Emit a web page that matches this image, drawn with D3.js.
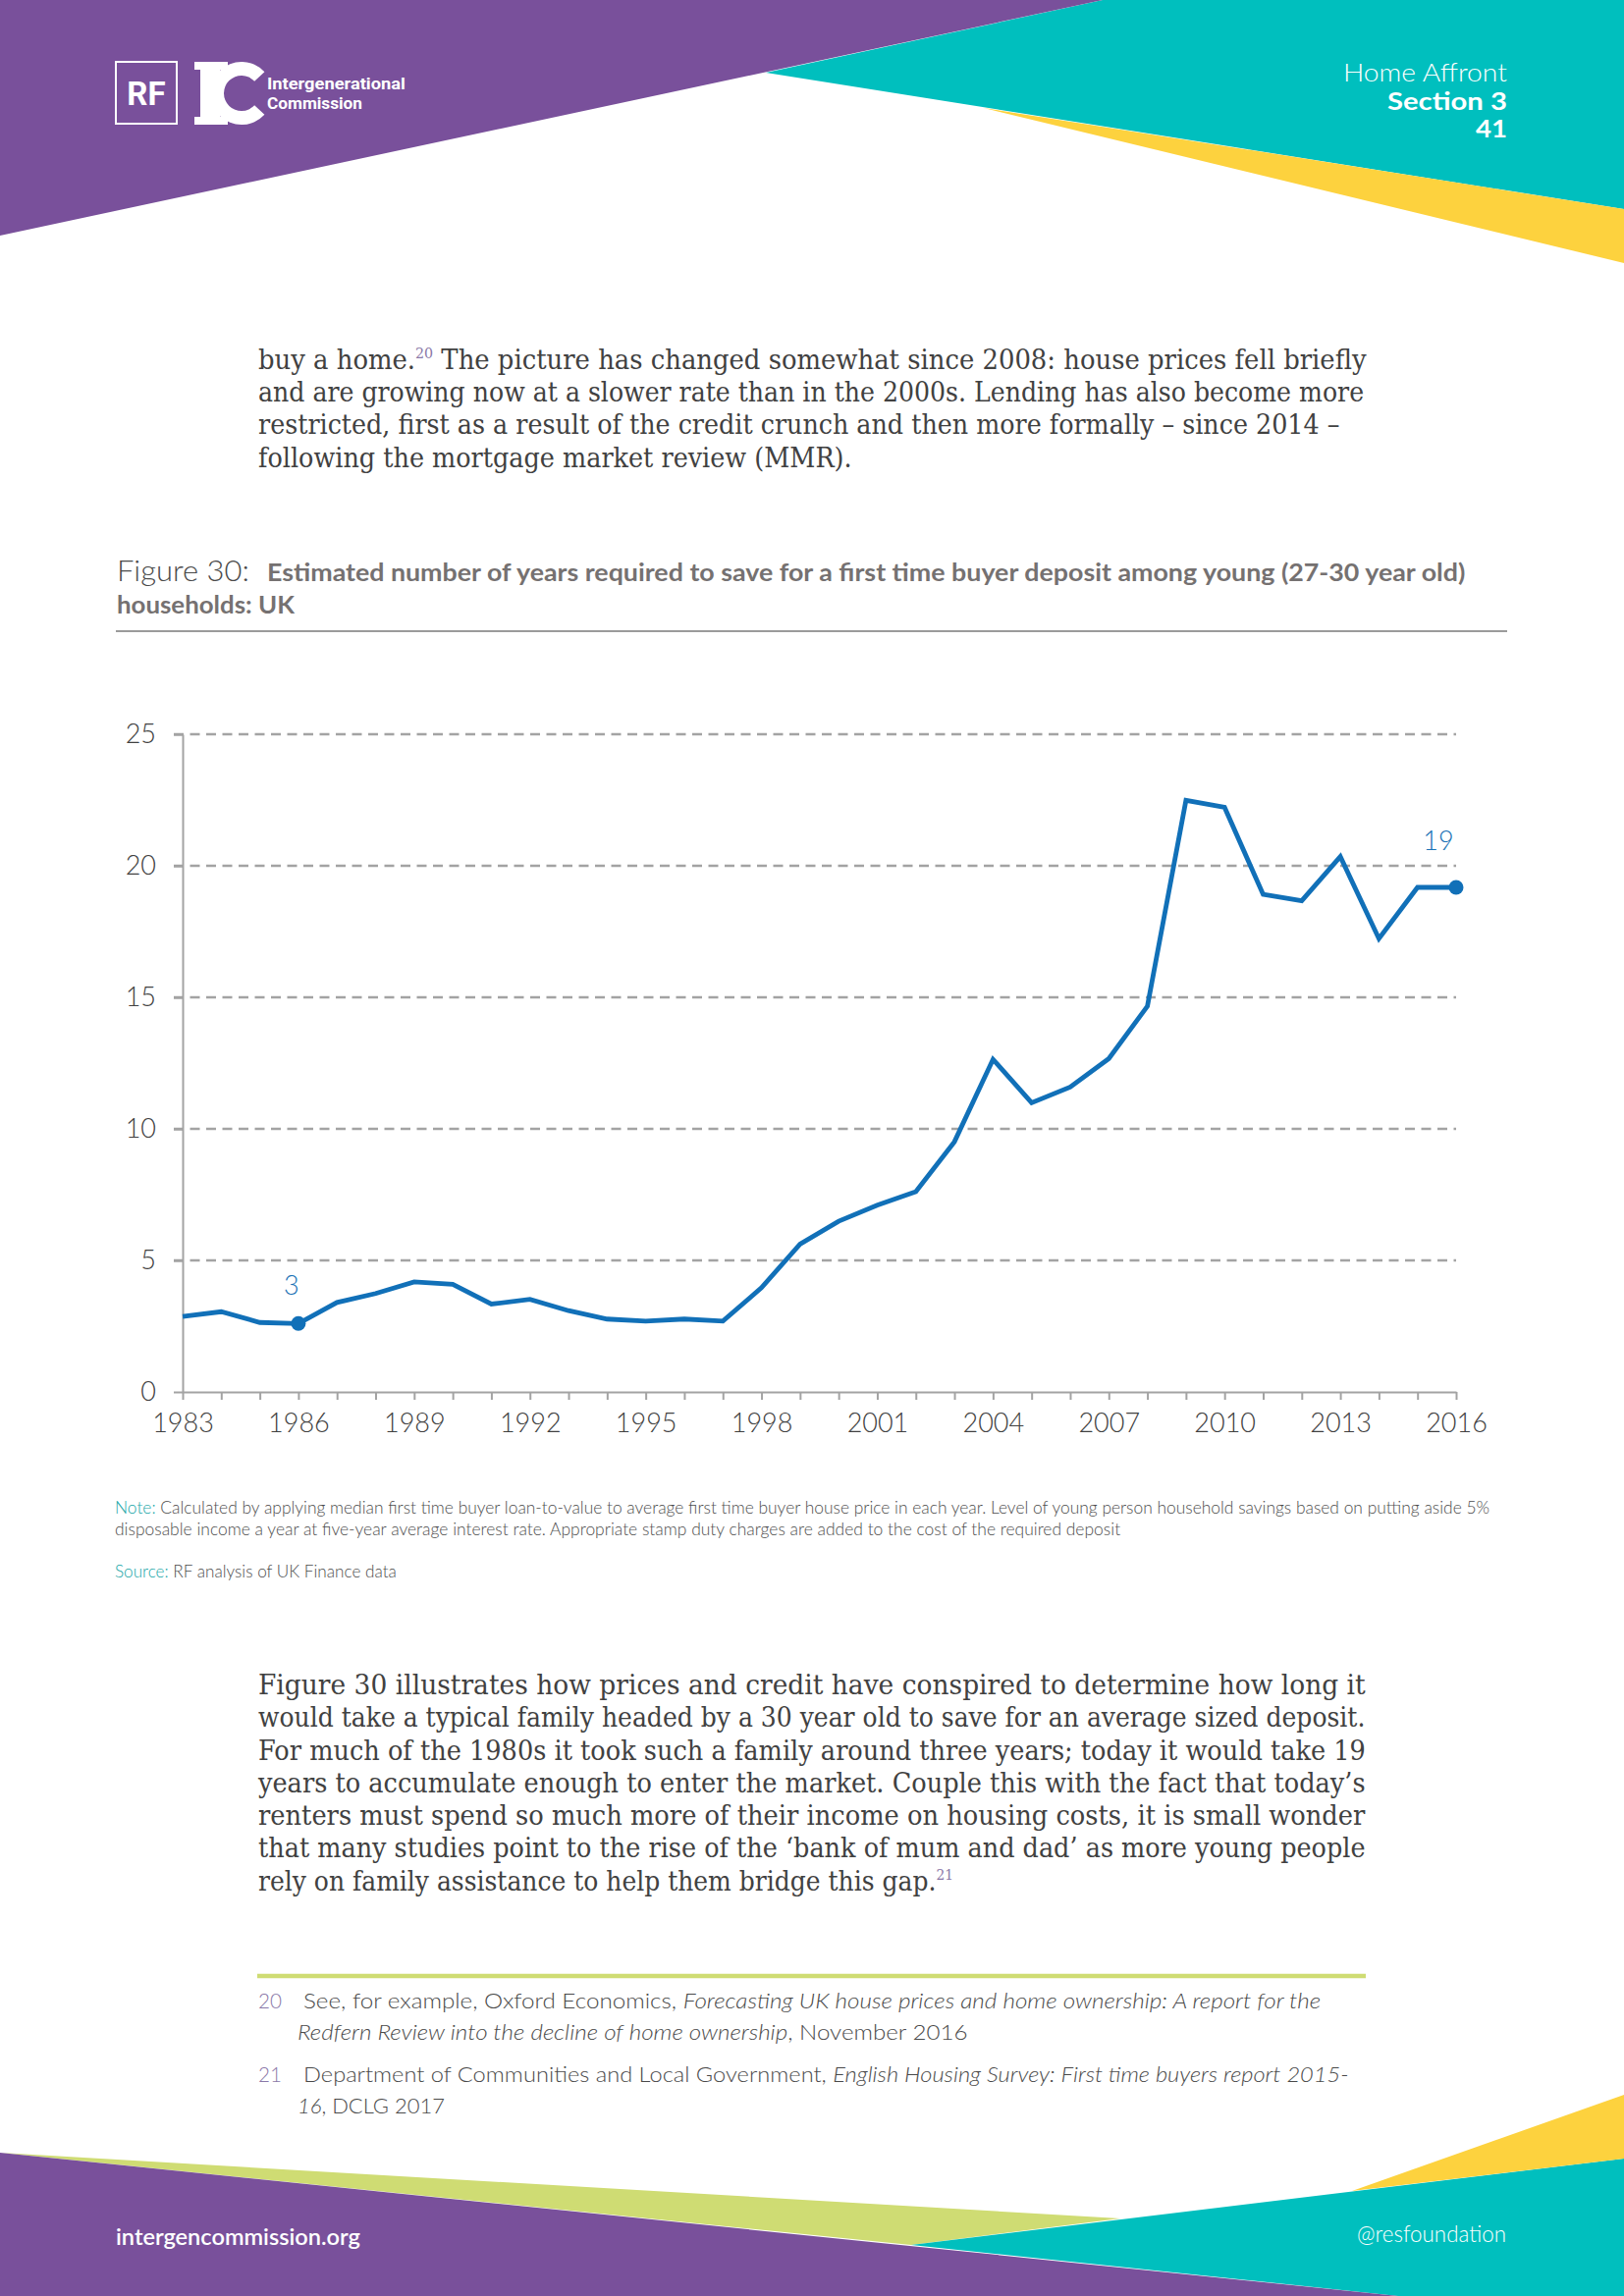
<!DOCTYPE html>
<html><head><meta charset="utf-8">
<script src="https://cdn.jsdelivr.net/npm/d3@7"></script>
<style>body{margin:0;background:#fff} svg{display:block}</style>
</head><body>
<svg id="page" width="1654" height="2339"></svg>
<script>
// ---------- DATA ----------
const years = [1983,1984,1985,1986,1987,1988,1989,1990,1991,1992,1993,1994,1995,1996,1997,1998,1999,2000,2001,2002,2003,2004,2005,2006,2007,2008,2009,2010,2011,2012,2013,2014,2015,2016];
const yearsToSave = [2.87,3.05,2.64,2.60,3.40,3.74,4.18,4.09,3.34,3.52,3.09,2.77,2.69,2.77,2.69,3.96,5.62,6.49,7.10,7.61,9.51,12.64,10.99,11.59,12.67,14.66,22.49,22.22,18.91,18.67,20.35,17.23,19.18,19.18];
const yTickValues = [0,5,10,15,20,25];
const xLabelYears = [1983,1986,1989,1992,1995,1998,2001,2004,2007,2010,2013,2016];
const highlightYears = [1986,2016];
const highlightLabels = ["3","19"];

const para1 = [
  [["buy a home.",""],["20","sup"],[" The picture has changed somewhat since 2008: house prices fell briefly",""]],
  [["and are growing now at a slower rate than in the 2000s. Lending has also become more",""]],
  [["restricted, first as a result of the credit crunch and then more formally \u2013 since 2014 \u2013",""]],
  [["following the mortgage market review (MMR).",""]]
];
const para2 = [
  [["Figure 30 illustrates how prices and credit have conspired to determine how long it",""]],
  [["would take a typical family headed by a 30 year old to save for an average sized deposit.",""]],
  [["For much of the 1980s it took such a family around three years; today it would take 19",""]],
  [["years to accumulate enough to enter the market. Couple this with the fact that today\u2019s",""]],
  [["renters must spend so much more of their income on housing costs, it is small wonder",""]],
  [["that many studies point to the rise of the \u2018bank of mum and dad\u2019 as more young people",""]],
  [["rely on family assistance to help them bridge this gap.",""],["21","sup"]]
];
const noteLines = [
  [["Note: ","lab"],["Calculated by applying median first time buyer loan-to-value to average first time buyer house price in each year. Level of young person household savings based on putting aside 5%",""]],
  [["disposable income a year at five-year average interest rate. Appropriate stamp duty charges are added to the cost of the required deposit",""]]
];
const sourceLine = [["Source: ","lab"],["RF analysis of UK Finance data",""]];
const footnotes = [
  {num:"20", l1:[["See, for example, Oxford Economics, ",""],["Forecasting UK house prices and home ownership: A report for the","i"]],
             l2:[["Redfern Review into the decline of home ownership","i"],[", November 2016",""]]},
  {num:"21", l1:[["Department of Communities and Local Government, ",""],["English Housing Survey: First time buyers report 2015-","i"]],
             l2:[["16","i"],[", DCLG 2017",""]]}
];

// ---------- COLOURS ----------
const PURPLE="#79509b", TEAL="#00bfbe", YELLOW="#fdd23e", GREEN="#cfdc73";
const LINE="#1170b8", LABEL="#1a72b5", GRID="#a3a3a3", TXT="#414141";

const svg = d3.select("#page");

function fitText(sel, width){
  const n = sel.node(); const w = n.getComputedTextLength(); if(!w) return;
  const x0 = +sel.attr("x"); const s = width / w;
  sel.attr("transform", `translate(${x0*(1-s)},0) scale(${s},1)`);
}
function richLine(x, yb, parts, opts){
  const t = svg.append("text").attr("x",x).attr("y",yb)
    .attr("font-family",opts.family).attr("font-size",opts.size)
    .attr("font-weight",opts.weight||400).attr("fill",opts.fill);
  let raised=false;
  parts.forEach(([s,k])=>{
    const ts = t.append("tspan").text(s);
    if(k==="sup"){ts.attr("font-size",opts.size*0.55).attr("dy",-opts.size*0.38).attr("fill","#8a78a8");raised=true;}
    else if(raised){ts.attr("dy",opts.size*0.38);raised=false;}
    if(k==="i") ts.attr("font-style","italic");
    if(k==="lab") ts.attr("fill","#1aa6a8");
  });
  if(opts.width) fitText(t, opts.width);
  return t;
}

// ---------- HEADER SHAPES ----------
svg.append("polygon").attr("points","1123,0 1654,0 1654,213 780,74").attr("fill",TEAL);
svg.append("polygon").attr("points","1002,110 1654,213 1654,268").attr("fill",YELLOW);
svg.append("polygon").attr("points","0,0 1123,0 0,240").attr("fill",PURPLE);

// logo
svg.append("rect").attr("x",118).attr("y",63).attr("width",62).attr("height",63)
  .attr("fill","none").attr("stroke","#fff").attr("stroke-width",2);
svg.append("text").attr("x",149).attr("y",107).attr("text-anchor","middle")
  .attr("font-family","Roboto, sans-serif").attr("font-weight",700).attr("font-size",33)
  .attr("fill","#fff").text("RF");
const ic = svg.append("g").attr("fill","#fff");
ic.append("rect").attr("x",198).attr("y",63).attr("width",34).attr("height",8);
ic.append("rect").attr("x",198).attr("y",119).attr("width",34).attr("height",8);
ic.append("rect").attr("x",204).attr("y",63).attr("width",20).attr("height",64);
ic.append("path").attr("transform","translate(246,95)")
  .attr("d", d3.arc()({innerRadius:18,outerRadius:32,startAngle:Math.PI/2+0.75,endAngle:Math.PI*2.5-0.75}));
const lt1 = svg.append("text").attr("x",272).attr("y",91).attr("font-family","Roboto, sans-serif")
  .attr("font-weight",700).attr("font-size",16).attr("fill","#fff").text("Intergenerational");
fitText(lt1,141);
const lt2 = svg.append("text").attr("x",272).attr("y",111).attr("font-family","Roboto, sans-serif")
  .attr("font-weight",700).attr("font-size",16).attr("fill","#fff").text("Commission");
fitText(lt2,97);

// header texts
[["Home Affront",1368,83,300,167],["Section 3",1413,112,700,122],["41",1503,140,700,32]].forEach(([s,x,yb,w,wd])=>{
  const t = svg.append("text").attr("x",x).attr("y",yb).attr("font-family","Lato, sans-serif")
    .attr("font-weight",w).attr("font-size",25).attr("fill","#fff").text(s);
  fitText(t,wd);
});

// ---------- PARAGRAPH 1 ----------
const p1w=[1129,1127,1102,605];
para1.forEach((ln,i)=>richLine(263,376+i*33.2,ln,{family:"'DejaVu Serif', serif",size:28,fill:TXT,width:p1w[i]}));

// ---------- FIGURE TITLE ----------
const f1 = svg.append("text").attr("x",119).attr("y",592).attr("font-family","Lato, sans-serif")
  .attr("font-weight",300).attr("font-size",30).attr("fill","#4a4a4a").text("Figure 30:");
fitText(f1,135);
const f2 = svg.append("text").attr("x",272).attr("y",592).attr("font-family","Lato, sans-serif")
  .attr("font-weight",700).attr("font-size",24).attr("fill","#757171")
  .text("Estimated number of years required to save for a first time buyer deposit among young (27-30 year old)");
fitText(f2,1221);
const f3 = svg.append("text").attr("x",119).attr("y",625).attr("font-family","Lato, sans-serif")
  .attr("font-weight",700).attr("font-size",24).attr("fill","#757171").text("households: UK");
fitText(f3,181);
svg.append("line").attr("x1",118).attr("x2",1535).attr("y1",643).attr("y2",643)
  .attr("stroke","#7a7a7a").attr("stroke-width",1.5);

// ---------- CHART ----------
const x = d3.scaleLinear().domain([1983,2016]).range([186,1483]);
const y = d3.scaleLinear().domain([0,25]).range([1418,748]);

svg.append("g").selectAll("line").data(yTickValues.filter(v=>v>0)).join("line")
  .attr("x1",177).attr("x2",x(2016)).attr("y1",d=>y(d)).attr("y2",d=>y(d))
  .attr("stroke",GRID).attr("stroke-width",2.4).attr("stroke-dasharray","10,6.5");

const yAx = svg.append("g").attr("transform",`translate(${x(1983)},0)`)
  .call(d3.axisLeft(y).tickValues(yTickValues).tickSize(9).tickPadding(18).tickSizeOuter(0));
const xAx = svg.append("g").attr("transform",`translate(0,${y(0)})`)
  .call(d3.axisBottom(x).tickValues(years).tickSize(8).tickPadding(14).tickSizeOuter(0)
    .tickFormat(d=>xLabelYears.includes(d)?String(d):""));
[yAx,xAx].forEach(g=>{
  g.select(".domain").attr("stroke",GRID).attr("stroke-width",2);
  g.selectAll(".tick line").attr("stroke",GRID).attr("stroke-width",2);
  g.selectAll(".tick text").attr("font-family","Lato, sans-serif").attr("font-weight",300)
    .attr("font-size",27).attr("fill",TXT);
});
yAx.selectAll(".tick").filter(d=>d>0).select("line").attr("stroke-width",2.4);

const series = years.map((yr,i)=>({year:yr,value:yearsToSave[i]}));
svg.append("path").datum(series)
  .attr("d",d3.line().x(d=>x(d.year)).y(d=>y(d.value)))
  .attr("fill","none").attr("stroke",LINE).attr("stroke-width",4.8).attr("stroke-linejoin","miter");

const hl = series.filter(d=>highlightYears.includes(d.year));
svg.append("g").selectAll("circle").data(hl).join("circle")
  .attr("cx",d=>x(d.year)).attr("cy",d=>y(d.value)).attr("r",7.5).attr("fill",LINE);
const labOff = [[-7,-29],[-18,-38]];
svg.append("g").selectAll("text").data(hl).join("text")
  .attr("x",(d,i)=>x(d.year)+labOff[i][0]).attr("y",(d,i)=>y(d.value)+labOff[i][1])
  .attr("text-anchor","middle").attr("font-family","Lato, sans-serif").attr("font-weight",300)
  .attr("font-size",27).attr("fill",LABEL).text((d,i)=>highlightLabels[i]);

// ---------- NOTES ----------
const nw=[1401,1025];
noteLines.forEach((ln,i)=>richLine(117,1542+i*22.5,ln,{family:"Lato, sans-serif",size:17,weight:300,fill:"#4d4d4d",width:nw[i]}));
richLine(117,1607,sourceLine,{family:"Lato, sans-serif",size:17,weight:300,fill:"#4d4d4d",width:287});

// ---------- PARAGRAPH 2 ----------
const p2w=[1128,1128,1128,1128,1128,1128,708];
para2.forEach((ln,i)=>richLine(263,1726+i*33.3,ln,{family:"'DejaVu Serif', serif",size:28,fill:TXT,width:p2w[i]}));

// ---------- FOOTNOTES ----------
svg.append("line").attr("x1",262).attr("x2",1391).attr("y1",2013).attr("y2",2013)
  .attr("stroke",GREEN).attr("stroke-width",4.5);
const fnw=[[1037,683],[1065,150]];
footnotes.forEach((f,i)=>{
  const yb = 2046+i*75;
  const nt = svg.append("text").attr("x",263).attr("y",yb).attr("font-family","Lato, sans-serif")
    .attr("font-weight",300).attr("font-size",21).attr("fill","#8a78a8").text(f.num);
  fitText(nt,24);
  richLine(309,yb,f.l1,{family:"Lato, sans-serif",size:21,weight:300,fill:"#4a4a4a",width:fnw[i][0]});
  richLine(303,yb+32,f.l2,{family:"Lato, sans-serif",size:21,weight:300,fill:"#4a4a4a",width:fnw[i][1]});
});

// ---------- FOOTER SHAPES ----------
svg.append("polygon").attr("points","0,2193 1141,2260 928,2287").attr("fill",GREEN);
svg.append("polygon").attr("points","928,2287 1654,2199 1654,2339 1424,2339").attr("fill",TEAL);
svg.append("polygon").attr("points","0,2193 1424,2339 0,2339").attr("fill",PURPLE);
svg.append("polygon").attr("points","1377,2232 1654,2134 1654,2199").attr("fill",YELLOW);

const ft1 = svg.append("text").attr("x",118).attr("y",2287).attr("font-family","Lato, sans-serif")
  .attr("font-weight",600).attr("font-size",23).attr("fill","#fff").text("intergencommission.org");
fitText(ft1,249);
const ft2 = svg.append("text").attr("x",1382).attr("y",2284).attr("font-family","Lato, sans-serif")
  .attr("font-weight",300).attr("font-size",23).attr("fill","#fff").text("@resfoundation");
fitText(ft2,152);
</script>
</body></html>
